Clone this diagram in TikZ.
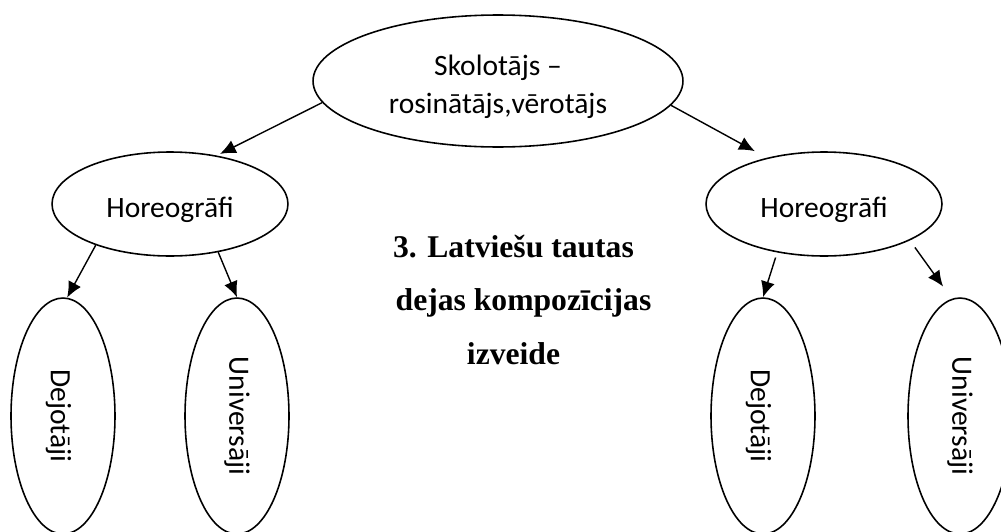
\documentclass[tikz,border=0pt]{standalone}
\usepackage{fontspec}
\setmainfont{Liberation Serif}
\newfontfamily\carlito{Carlito}
\usetikzlibrary{shapes.geometric, arrows.meta}

\tikzset{
	oval/.style = {draw, ellipse, line width = 0.9pt, inner sep = 0pt},
	wide oval/.style = {oval, minimum width = 4.72cm, minimum height = 2.08cm},
	tall oval/.style = {oval, minimum width = 2.08cm, minimum height = 4.72cm},
	word/.style = {font = \carlito\fontsize{16.8}{21.5}\selectfont, align = center},
	link/.style = {->, line width = 0.8pt}
}

\begin{document}
\begin{tikzpicture}[> = {Latex[length = 9pt, width = 8pt]}, x = 0.02cm, y = -0.02cm]

	\useasboundingbox (0, 0) rectangle (1001, 531);

	% Top oval

	\node [oval, minimum width = 7.4cm, minimum height = 2.64cm] (teacher) at (498, 81) {};
	\node [word] (teachertxt) at ([yshift = -0.12cm] teacher.center) {Skolotājs –\\rosinātājs,vērotājs};

	% Second row

	\node [wide oval] (horL) at (170, 204) {};
	\node [wide oval] (horR) at (824, 204) {};

	% Bottom row

	\node [tall oval] (dejL) at (63, 416) {};
	\node [tall oval] (uniL) at (237, 416) {};
	\node [tall oval] (dejR) at (763, 416) {};
	\node [tall oval] (uniR) at (960, 416) {};

	% Labels

	\foreach \s in {L, R} {
		\node [word] (hor\s txt) at ([yshift = -0.11cm] hor\s.center) {Horeogrāfi};
		\node [word, rotate = -90] (dej\s txt) at ([xshift = -0.09cm] dej\s.center) {Dejotāji};
		\node [word, rotate = -90] (uni\s txt) at (uni\s.center) {Universāji};
	}

	% Title

	\node [font = \bfseries\fontsize{18}{30.3}\selectfont, align = center] (title) at (513.5, 300)
		{3. Latviešu tautas\\\hspace*{0.4cm}dejas kompozīcijas\\izveide};

	% Arrows

	\draw [link, shorten > = 2pt] (teacher.187) -- (horL.46);
	\draw [link, shorten > = 7.8pt] (teacher.352) -- (horR.141);

	\draw [link] (horL.209) -- (dejL.88);
	\draw [link] (horL.315) -- (uniL.north);

	\draw [link, shorten < = 3pt] (horR.226) -- (dejR.north);
	\draw [link, shorten < = 4.9pt, shorten > = 8.5pt] (horR.337) -- (uniR.94);

\end{tikzpicture}
\end{document}
